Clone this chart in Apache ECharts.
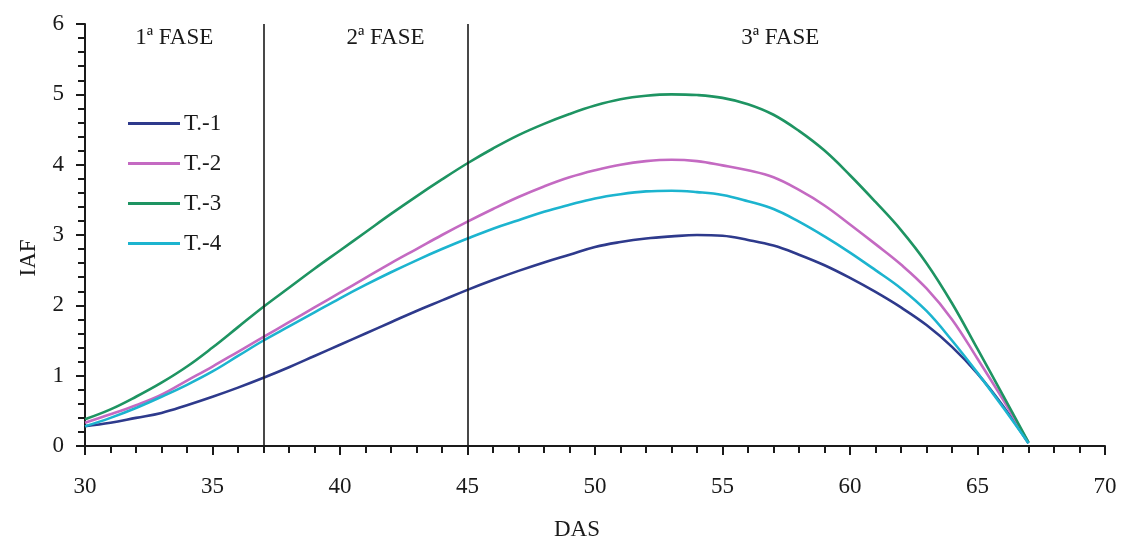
<!DOCTYPE html>
<html>
<head>
<meta charset="utf-8">
<script src="https://cdn.jsdelivr.net/npm/echarts@6/dist/echarts.min.js"></script>
<style>
  html, body { margin: 0; padding: 0; background: #fff; }
  #chart { width: 1124px; height: 546px; }
</style>
</head>
<body>
<div id="chart"></div>
<script>
// Leaf area index (IAF) over days after sowing (DAS) for four treatments
const das = [30,31,32,33,34,35,36,37,38,39,40,41,42,43,44,45,46,47,48,49,50,51,52,53,54,55,56,57,58,59,60,61,62,63,64,65,66,67];

const t1 = [0.28,0.33,0.40,0.47,0.58,0.70,0.83,0.97,1.12,1.28,1.44,1.60,1.76,1.92,2.07,2.22,2.36,2.49,2.61,2.72,2.83,2.90,2.95,2.98,3.00,2.99,2.93,2.85,2.72,2.57,2.39,2.19,1.97,1.72,1.41,1.03,0.57,0.04];
const t2 = [0.33,0.45,0.58,0.73,0.93,1.13,1.34,1.55,1.76,1.97,2.18,2.39,2.60,2.80,3.00,3.19,3.37,3.54,3.69,3.82,3.92,4.00,4.05,4.07,4.05,3.99,3.92,3.82,3.64,3.42,3.15,2.87,2.58,2.24,1.80,1.24,0.66,0.05];
const t3 = [0.38,0.52,0.70,0.90,1.13,1.40,1.69,1.98,2.25,2.52,2.78,3.04,3.30,3.55,3.79,4.02,4.23,4.42,4.58,4.72,4.84,4.93,4.98,5.00,4.99,4.95,4.86,4.71,4.48,4.20,3.85,3.47,3.07,2.60,2.03,1.38,0.72,0.05];
const t4 = [0.28,0.40,0.54,0.70,0.87,1.06,1.28,1.50,1.70,1.90,2.10,2.29,2.47,2.64,2.80,2.95,3.09,3.21,3.33,3.43,3.52,3.58,3.62,3.63,3.61,3.57,3.48,3.37,3.19,2.98,2.75,2.50,2.24,1.92,1.50,1.04,0.55,0.04];

const seriesNames = ['T.-1', 'T.-2', 'T.-3', 'T.-4'];
const seriesColors = ['#2e3a8c', '#c46ac2', '#1e9462', '#1cb4cf'];
const seriesValues = [t1, t2, t3, t4];

// Phase boundaries (DAS) and phase labels
const phaseBounds = [30, 37, 45, 70];
const phaseLabels = ['1ª FASE', '2ª FASE', '3ª FASE'];

const serif = '"Liberation Serif", "DejaVu Serif", serif';
const ink = '#1a1a1a';
const fs = 23;

const chart = echarts.init(document.getElementById('chart'));

const lineSeries = seriesNames.map((name, i) => ({
  name: name,
  type: 'line',
  smooth: 0.4,
  symbol: 'none',
  data: das.map((d, k) => [d, seriesValues[i][k]]),
  lineStyle: { color: seriesColors[i], width: 2.6 },
  itemStyle: { color: seriesColors[i] },
  z: 3
}));

// Vertical separators between phases
lineSeries[0].markLine = {
  symbol: 'none',
  silent: true,
  animation: false,
  label: { show: false },
  lineStyle: { color: ink, width: 1.6, type: 'solid' },
  data: phaseBounds.slice(1, -1).map(b => ({ xAxis: b }))
};

// Phase labels along the top of the plot
lineSeries.push({
  name: 'fases',
  type: 'line',
  data: [],
  silent: true,
  markArea: {
    silent: true,
    itemStyle: { color: 'rgba(0,0,0,0)' },
    label: {
      position: 'insideTop',
      distance: 2,
      color: ink,
      fontFamily: serif,
      fontSize: fs
    },
    data: phaseLabels.map((lbl, i) => [
      { name: lbl, xAxis: phaseBounds[i], yAxis: 6,
        label: { offset: i === 1 ? [20, 0] : (i === 2 ? [-6, 0] : [0, 0]) } },
      { xAxis: phaseBounds[i + 1], yAxis: 0 }
    ])
  }
});

chart.setOption({
  backgroundColor: '#ffffff',
  animation: false,
  grid: { left: 85, right: 19, top: 24, bottom: 100, outerBoundsMode: 'none', containLabel: false },
  legend: {
    data: seriesNames,
    orient: 'vertical',
    left: 123,
    top: 107,
    icon: 'rect',
    itemWidth: 52,
    itemHeight: 3,
    itemGap: 17,
    textStyle: { color: ink, fontFamily: serif, fontSize: fs, padding: [0, 0, 0, -1] }
  },
  xAxis: {
    type: 'value',
    min: 30,
    max: 70,
    interval: 5,
    name: 'DAS',
    nameLocation: 'middle',
    nameGap: 72,
    nameTextStyle: { color: ink, fontFamily: serif, fontSize: fs, padding: [0, 36, 0, 0] },
    axisLine: { show: true, onZero: false, lineStyle: { color: ink, width: 2 } },
    axisTick: { show: true, inside: false, length: 9, lineStyle: { color: ink, width: 2 } },
    minorTick: { show: true, splitNumber: 5, length: 7, lineStyle: { color: ink, width: 2 } },
    axisLabel: { color: ink, fontFamily: serif, fontSize: fs, margin: 29 },
    splitLine: { show: false }
  },
  yAxis: {
    type: 'value',
    min: 0,
    max: 6,
    interval: 1,
    name: 'IAF',
    nameLocation: 'middle',
    nameGap: 45,
    nameRotate: 90,
    nameTextStyle: { color: ink, fontFamily: serif, fontSize: fs, padding: [0, 46, 0, 0] },
    axisLine: { show: true, onZero: false, lineStyle: { color: ink, width: 2 } },
    axisTick: { show: true, inside: false, length: 9, lineStyle: { color: ink, width: 2 } },
    minorTick: { show: true, splitNumber: 5, length: 7, lineStyle: { color: ink, width: 2 } },
    axisLabel: { color: ink, fontFamily: serif, fontSize: fs, margin: 21 },
    splitLine: { show: false }
  },
  series: lineSeries
});
</script>
</body>
</html>
